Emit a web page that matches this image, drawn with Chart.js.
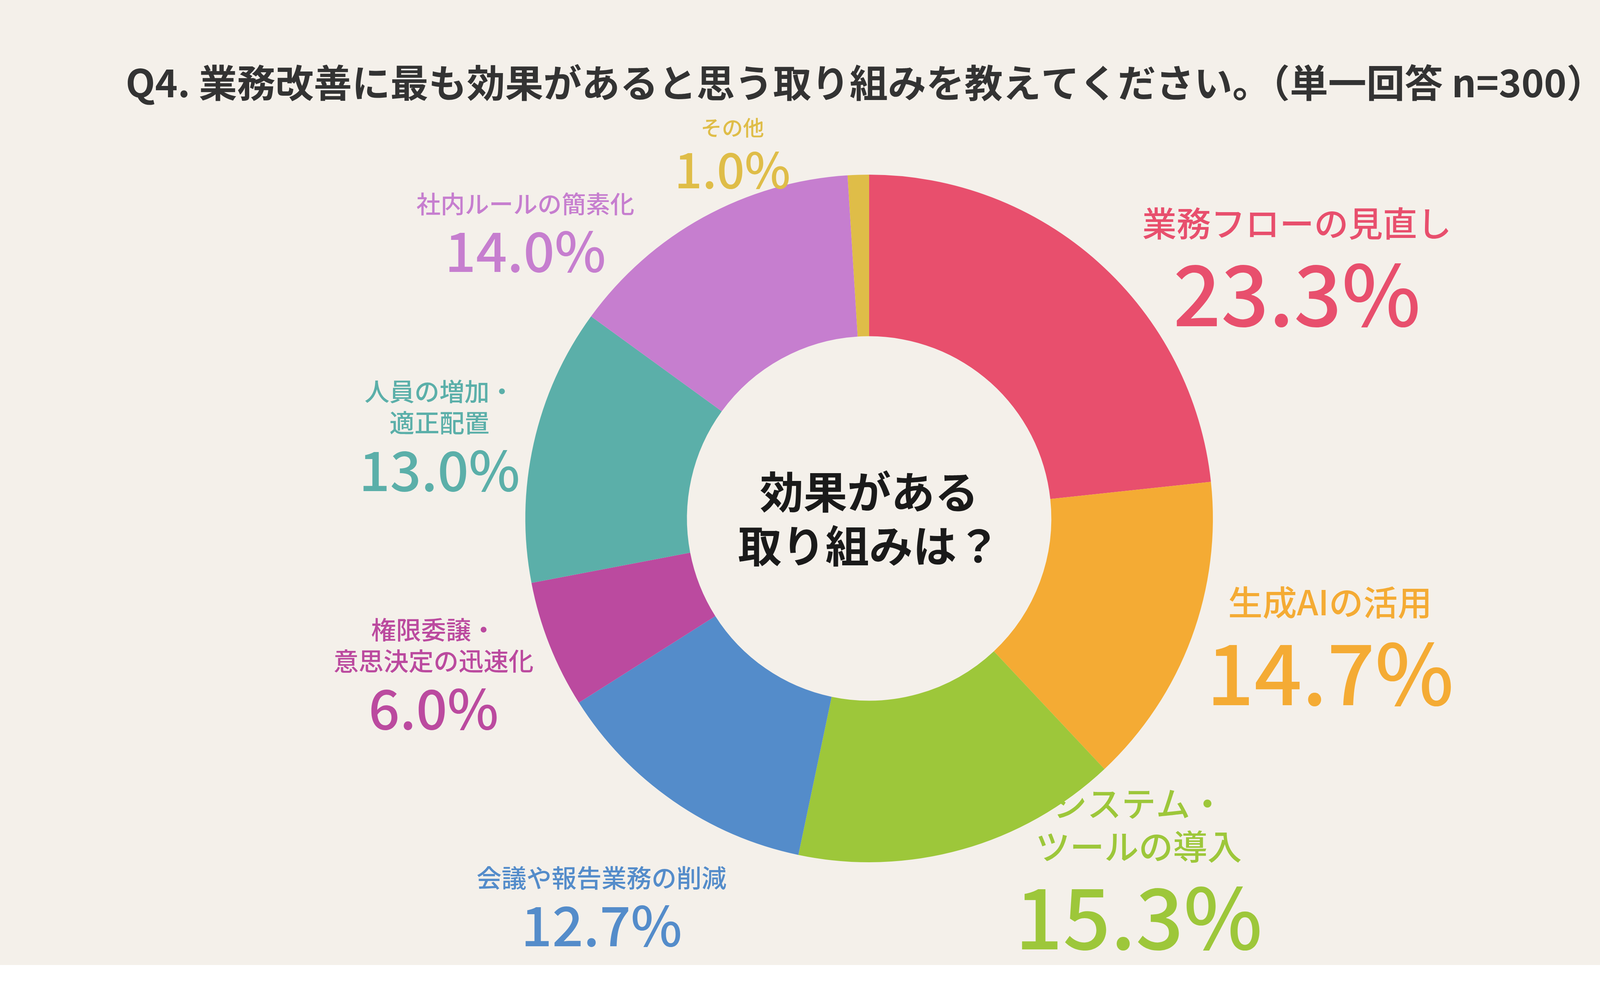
<!DOCTYPE html>
<html><head><meta charset="utf-8">
<script src="https://cdn.jsdelivr.net/npm/chart.js@4"></script>
<style>html,body{margin:0;padding:0;background:#fff}canvas{display:block}</style>
</head><body>
<div style="width:4400px;height:2557px"><canvas id="c" width="4400" height="2557"></canvas></div>
<script>
const categories = ["業務フローの見直し","生成AIの活用","システム・\nツールの導入","会議や報告業務の削減","権限委譲・\n意思決定の迅速化","人員の増加・\n適正配置","社内ルールの簡素化","その他"];
const values = [23.3,14.7,15.3,12.7,6.0,13.0,14.0,1.0];
const colors = ["#E84F6D","#F4AB34","#9DC73A","#548CCA","#BB4A9F","#5BAFA9","#C67ECF","#DFBD48"];
const title = "Q4. 業務改善に最も効果があると思う取り組みを教えてください。（単一回答 n=300）";
const centerText = ["効果がある","取り組みは？"];
// label layout (offset from center in px, name size, pct size)
const layout = [
 {dx:1095,dy:-755,ns:88,ps:215},
 {dx:1180,dy:215,ns:88,ps:215},
 {dx:690,dy:840,ns:88,ps:215},
 {dx:-685,dy:920,ns:64,ps:140},
 {dx:-1115,dy:365,ns:64,ps:140},
 {dx:-1100,dy:-245,ns:64,ps:140},
 {dx:-880,dy:-805,ns:62,ps:140},
 {dx:-350,dy:-1000,ns:54,ps:125}
];
const F = '"Noto Sans CJK JP","Noto Sans",sans-serif';
const deco = {
 id:'deco',
 beforeDraw(ch){const c=ch.ctx;c.save();c.fillStyle='#F4F0EA';c.fillRect(0,0,4400,2470);c.fillStyle='#fff';c.fillRect(0,2470,4400,87);c.restore();},
 afterDraw(ch){
  const c=ch.ctx,a=ch.chartArea;const cx=(a.left+a.right)/2,cy=(a.top+a.bottom)/2;
  c.save();c.textAlign='center';c.textBaseline='middle';
  c.fillStyle='#333';c.font='600 98px '+F;c.fillText(title,2215,212);
  c.fillStyle='#1a1a1a';c.font='600 112px '+F;
  c.fillText(centerText[0],cx,cy-68);c.fillText(centerText[1],cx,cy+70);
  layout.forEach((L,i)=>{
   const lines=categories[i].split('\n');c.fillStyle=colors[i];
   const lh=L.ns*1.25;let y=cy+L.dy-(lines.length-1)*lh;
   c.font='500 '+L.ns+'px '+F;
   lines.forEach((t,k)=>c.fillText(t,cx+L.dx,y+k*lh));
   c.font='500 '+L.ps+'px '+F;
   c.fillText(values[i].toFixed(1)+'%',cx+L.dx,cy+L.dy+L.ns*0.55+L.ps*0.62);
  });
  c.restore();
 }
};
new Chart(document.getElementById('c'),{
 type:'doughnut',
 data:{labels:categories,datasets:[{data:values,backgroundColor:colors,borderWidth:0}]},
 options:{responsive:false,animation:false,devicePixelRatio:1,cutout:'53%',
  layout:{padding:{left:1345,right:1295,top:447,bottom:350}},
  plugins:{legend:{display:false},tooltip:{enabled:false}}},
 plugins:[deco]
});
</script></body></html>
